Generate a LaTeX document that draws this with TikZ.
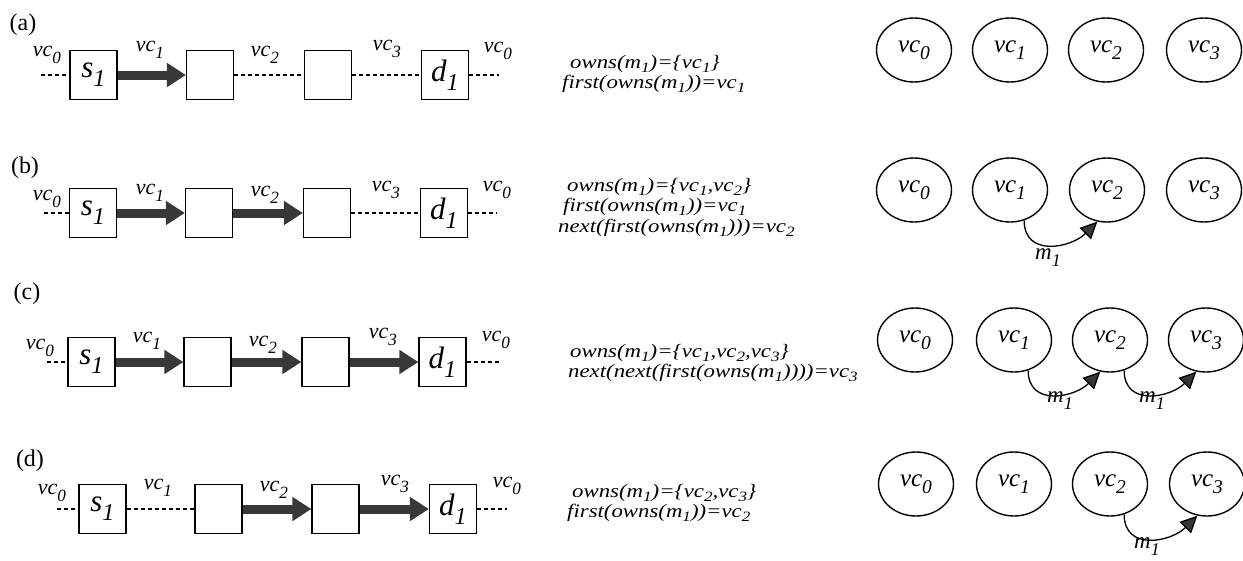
\documentclass[tikz,border=0pt]{standalone}
\usepackage{fontspec}
\setmainfont{Liberation Serif}
\newfontfamily\formfamily{Liberation Serif}[FakeStretch=1.2]
\usetikzlibrary{arrows.meta,shapes.geometric}
\definecolor{arrowgray}{HTML}{383838}
\newcommand\sbx[1]{\raisebox{-0.3em}{\scalebox{0.78}{#1}}}
\newcommand\fsb[1]{\raisebox{-0.22em}{\scalebox{0.75}{#1}}}
\newcommand\vcx[1]{vc\sbx{#1}}
\tikzset{
  panel/.style={font=\fontsize{24}{26}\selectfont, inner sep=0},
  box/.style={draw, line width=1.2pt, minimum width=47pt, minimum height=49pt, inner sep=0, font=\fontsize{31}{33}\selectfont\itshape},
  vcl/.style={font=\fontsize{22}{24}\selectfont\itshape, inner sep=0},
  own/.style={draw=arrowgray, line width=9pt, -{Triangle[length=19pt,width=23pt]}},
  dsh/.style={line width=1.1pt, dash pattern=on 4pt off 3pt},
  formula/.style={font=\formfamily\fontsize{19}{20.5}\selectfont\itshape, anchor=west, inner sep=0, align=left},
  vcell/.style={draw, ellipse, line width=1.4pt, minimum width=75pt, minimum height=64pt, inner sep=0, font=\fontsize{25}{27}\selectfont\itshape},
  marc/.style={line width=1.3pt, -{Triangle[length=17pt,width=16pt,fill=arrowgray]}},
  mlab/.style={font=\fontsize{23}{25}\selectfont\itshape, inner sep=0}
}
\begin{document}
\begin{tikzpicture}[x=1pt,y=1pt]
\useasboundingbox (0,0) rectangle (1243,-560);

% ---------------- Row (a)
\node[panel] (pa) at (23,-25) {(a)};
\node[box] (as) at (93.5,-75) {s\sbx{1}};
\node[box] (a2) at (210,-75) {};
\node[box] (a3) at (328,-75) {};
\node[box] (ad) at (445,-75) {d\sbx{1}};
\coordinate (al) at (41,-75);
\coordinate (ar) at (499,-75);
\draw[dsh] (al) -- (as);
\draw[own] (as) -- (a2);
\draw[dsh] (a2) -- (a3);
\draw[dsh] (a3) -- (ad);
\draw[dsh] (ad) -- (ar);
\node[vcl] (alab0) at (47,-55) {\vcx{0}};
\node[vcl] (alab1) at (150,-50) {\vcx{1}};
\node[vcl] (alab2) at (265,-55) {\vcx{2}};
\node[vcl] (alab3) at (387,-49) {\vcx{3}};
\node[vcl] (alab4) at (498,-51) {\vcx{0}};
\node[formula] (af) at (562,-74) {\hspace*{8pt}owns(m\fsb{1})=\{vc\fsb{1}\}\\first(owns(m\fsb{1}))=vc\fsb{1}};
\node[vcell] (ae0) at (914,-50) {\vcx{0}};
\node[vcell] (ae1) at (1010,-50) {\vcx{1}};
\node[vcell] (ae2) at (1106,-50) {\vcx{2}};
\node[vcell] (ae3) at (1204,-50) {\vcx{3}};

% ---------------- Row (b)
\node[panel] (pb) at (25,-168) {(b)};
\node[box] (bs) at (93,-213) {s\sbx{1}};
\node[box] (b2) at (209,-213) {};
\node[box] (b3) at (327,-213) {};
\node[box] (bd) at (444,-213) {d\sbx{1}};
\coordinate (bl) at (44,-213);
\coordinate (br) at (497,-213);
\draw[dsh] (bl) -- (bs);
\draw[own] (bs) -- (b2);
\draw[own] (b2) -- (b3);
\draw[dsh] (b3) -- (bd);
\draw[dsh] (bd) -- (br);
\node[vcl] (blab0) at (47,-199) {\vcx{0}};
\node[vcl] (blab1) at (150,-193) {\vcx{1}};
\node[vcl] (blab2) at (265,-195) {\vcx{2}};
\node[vcl] (blab3) at (386,-190) {\vcx{3}};
\node[vcl] (blab4) at (497,-190) {\vcx{0}};
\node[formula] (bf) at (558,-207) {\hspace*{9pt}owns(m\fsb{1})=\{vc\fsb{1},vc\fsb{2}\}\\\hspace*{5pt}first(owns(m\fsb{1}))=vc\fsb{1}\\next(first(owns(m\fsb{1})))=vc\fsb{2}};
\node[vcell] (be0) at (914,-190) {\vcx{0}};
\node[vcell] (be1) at (1010,-190) {\vcx{1}};
\node[vcell] (be2) at (1107,-190) {\vcx{2}};
\node[vcell] (be3) at (1204,-190) {\vcx{3}};
\draw[marc] (be1.-65) to[out=-90,in=225,looseness=1.3] (be2.-107);
\node[mlab] (bm) at (1048,-258) {m\sbx{1}};

% ---------------- Row (c)
\node[panel] (pc) at (27,-294) {(c)};
\node[box] (cs) at (91.5,-362) {s\sbx{1}};
\node[box] (c2) at (207.5,-362) {};
\node[box] (c3) at (325.5,-362) {};
\node[box] (cd) at (442.5,-362) {d\sbx{1}};
\coordinate (cl) at (47,-362);
\coordinate (cr) at (499,-362);
\draw[dsh] (cl) -- (cs);
\draw[own] (cs) -- (c2);
\draw[own] (c2) -- (c3);
\draw[own] (c3) -- (cd);
\draw[dsh] (cd) -- (cr);
\node[vcl] (clab0) at (40,-348) {\vcx{0}};
\node[vcl] (clab1) at (147,-341) {\vcx{1}};
\node[vcl] (clab2) at (263,-345) {\vcx{2}};
\node[vcl] (clab3) at (383,-337) {\vcx{3}};
\node[vcl] (clab4) at (496,-340) {\vcx{0}};
\node[formula] (cf) at (568,-363) {\hspace*{2pt}owns(m\fsb{1})=\{vc\fsb{1},vc\fsb{2},vc\fsb{3}\}\\next(next(first(owns(m\fsb{1}))))=vc\fsb{3}};
\node[vcell] (ce0) at (915,-340) {\vcx{0}};
\node[vcell] (ce1) at (1014,-340) {\vcx{1}};
\node[vcell] (ce2) at (1110,-340) {\vcx{2}};
\node[vcell] (ce3) at (1206,-340) {\vcx{3}};
\draw[marc] (ce1.-65) to[out=-90,in=225,looseness=1.3] (ce2.-107);
\draw[marc] (ce2.-65) to[out=-90,in=225,looseness=1.3] (ce3.-107);
\node[mlab] (cm1) at (1060,-401) {m\sbx{1}};
\node[mlab] (cm2) at (1152,-401) {m\sbx{1}};

% ---------------- Row (d)
\node[panel] (pd) at (30,-461) {(d)};
\node[box] (ds) at (102.5,-509) {s\sbx{1}};
\node[box] (d2) at (218.5,-509) {};
\node[box] (d3) at (335.5,-509) {};
\node[box] (dd) at (453,-509) {d\sbx{1}};
\coordinate (dl) at (57,-509);
\coordinate (dr) at (507,-509);
\draw[dsh] (dl) -- (ds);
\draw[dsh] (ds) -- (d2);
\draw[own] (d2) -- (d3);
\draw[own] (d3) -- (dd);
\draw[dsh] (dd) -- (dr);
\node[vcl] (dlab0) at (52,-493) {\vcx{0}};
\node[vcl] (dlab1) at (158,-488) {\vcx{1}};
\node[vcl] (dlab2) at (274,-490) {\vcx{2}};
\node[vcl] (dlab3) at (395,-484) {\vcx{3}};
\node[vcl] (dlab4) at (507,-486) {\vcx{0}};
\node[formula] (df) at (567,-503) {\hspace*{5pt}owns(m\fsb{1})=\{vc\fsb{2},vc\fsb{3}\}\\first(owns(m\fsb{1}))=vc\fsb{2}};
\node[vcell] (de0) at (916,-484) {\vcx{0}};
\node[vcell] (de1) at (1014,-484) {\vcx{1}};
\node[vcell] (de2) at (1110,-484) {\vcx{2}};
\node[vcell] (de3) at (1207,-484) {\vcx{3}};
\draw[marc] (de2.-65) to[out=-90,in=225,looseness=1.3] (de3.-107);
\node[mlab] (dm) at (1147,-547) {m\sbx{1}};
\end{tikzpicture}
\end{document}
